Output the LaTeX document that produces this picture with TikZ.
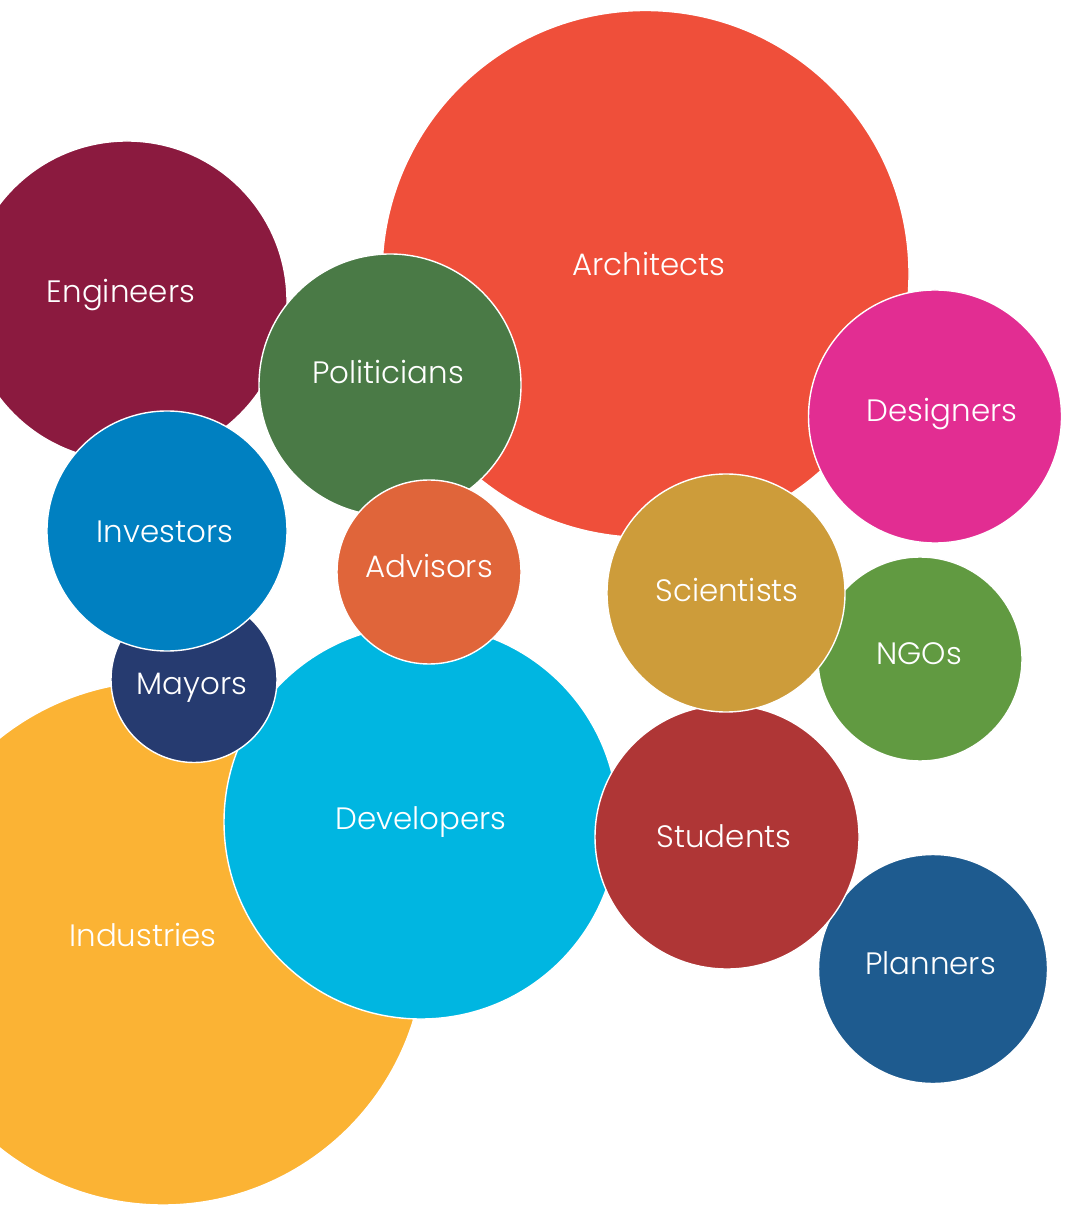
\documentclass[tikz,border=0pt]{standalone}
\usepackage{fontspec}
\setmainfont{Poppins}[UprightFont=* Light]
\usetikzlibrary{positioning}
\newcommand\bFont{\fontsize{8.8}{11}\selectfont}
\definecolor{cArch}{RGB}{239,79,58}
\definecolor{cEng}{RGB}{139,26,63}
\definecolor{cPol}{RGB}{74,122,70}
\definecolor{cDes}{RGB}{226,45,146}
\definecolor{cInd}{RGB}{251,179,52}
\definecolor{cDev}{RGB}{0,182,225}
\definecolor{cMay}{RGB}{38,59,112}
\definecolor{cInv}{RGB}{0,128,193}
\definecolor{cAdv}{RGB}{224,101,58}
\definecolor{cPla}{RGB}{30,91,143}
\definecolor{cStu}{RGB}{175,54,54}
\definecolor{cNgo}{RGB}{97,154,65}
\definecolor{cSci}{RGB}{205,156,58}
\tikzstyle{bubble} = [circle, inner sep=0pt, draw=white, line width=0.4pt]
\tikzstyle{lbl} = [anchor=base, text=white, font=\bFont, inner sep=0pt]

\begin{document}
\begin{tikzpicture}
\useasboundingbox (0,0) rectangle (10.64,-12.05);
\clip (0,0) rectangle (10.64,-12.05);

% back row
\node (arch) [bubble, fill=cArch, minimum size=5.27cm] at (6.455,-2.74) {};
\node (eng) [bubble, fill=cEng, minimum size=3.20cm] at (1.27,-3.01) {};
\node (pol) [bubble, fill=cPol, minimum size=2.62cm] at (3.90,-3.85) {};
\node (des) [bubble, fill=cDes, minimum size=2.53cm] at (9.35,-4.165) {};
\node (ind) [bubble, fill=cInd, minimum size=5.24cm] at (1.63,-9.43) {};
\node (dev) [bubble, fill=cDev, minimum size=3.94cm] at (4.21,-8.22) {};
\node (may) [bubble, fill=cMay, minimum size=1.66cm] at (1.94,-6.795) {};
\node (inv) [bubble, fill=cInv, minimum size=2.40cm] at (1.67,-5.31) {};
\node (adv) [bubble, fill=cAdv, minimum size=1.84cm] at (4.29,-5.72) {};
\node (pla) [bubble, fill=cPla, minimum size=2.29cm] at (9.33,-9.69) {};
\node (stu) [bubble, fill=cStu, minimum size=2.64cm] at (7.27,-8.37) {};
\node (ngo) [bubble, fill=cNgo, minimum size=2.04cm] at (9.20,-6.59) {};
\node (sci) [bubble, fill=cSci, minimum size=2.38cm] at (7.26,-5.93) {};

% labels
\node (archT) [lbl] at (6.486,-2.76) {Architects};
\node (engT) [lbl] at (1.21,-3.03) {Engineers};
\node (polT) [lbl] at (3.88,-3.84) {Politicians};
\node (desT) [lbl] at (9.42,-4.22) {Designers};
\node (indT) [lbl] at (1.43,-9.465) {Industries};
\node (devT) [lbl] at (4.21,-8.29) {Developers};
\node (mayT) [lbl] at (1.92,-6.94) {Mayors};
\node (invT) [lbl] at (1.65,-5.43) {Investors};
\node (advT) [lbl] at (4.29,-5.78) {Advisors};
\node (plaT) [lbl] at (9.305,-9.74) {Planners};
\node (stuT) [lbl] at (7.24,-8.47) {Students};
\node (ngoT) [lbl] at (9.19,-6.64) {NGOs};
\node (sciT) [lbl] at (7.27,-6.02) {Scientists};
\end{tikzpicture}
\end{document}
